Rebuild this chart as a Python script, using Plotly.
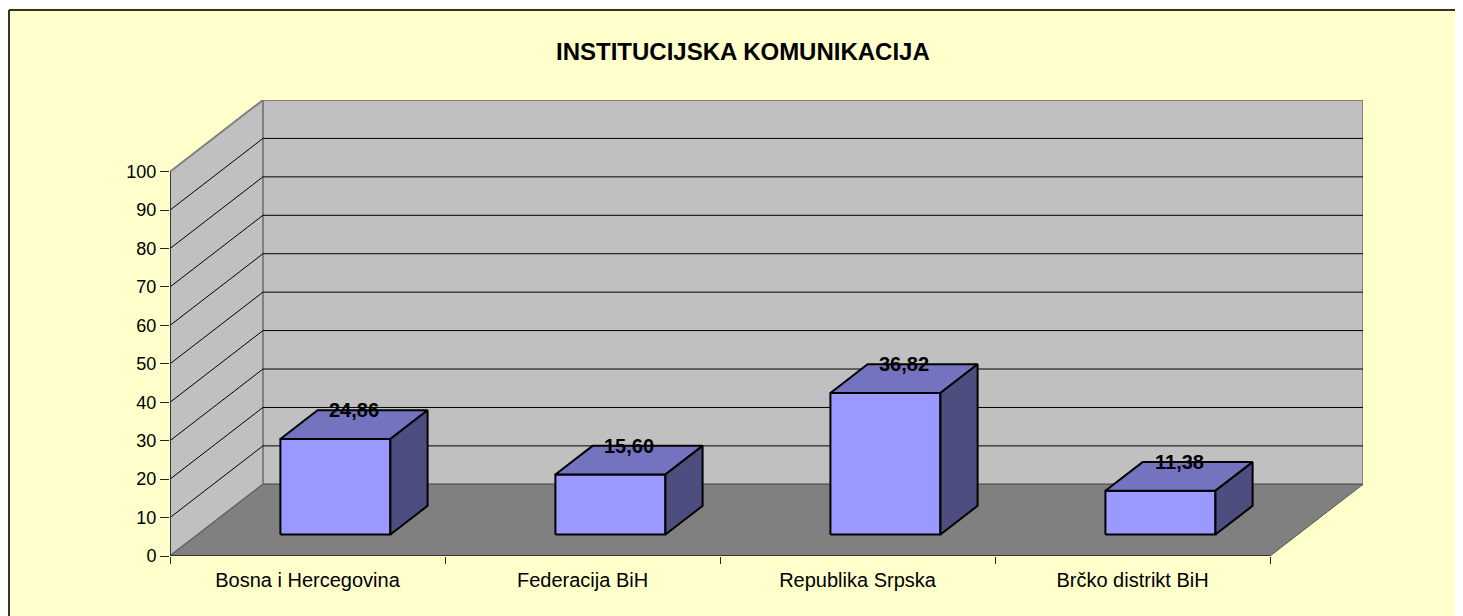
import plotly.graph_objects as go

# ---- data ----
categories = ["Bosna i Hercegovina", "Federacija BiH", "Republika Srpska", "Brčko distrikt BiH"]
values = [24.86, 15.60, 36.82, 11.38]
y_ticks = list(range(0, 101, 10))
title_text = "INSTITUCIJSKA KOMUNIKACIJA"

# ---- layout geometry ----
OFF = 8  # page body margin offset
W, H = 1463 - OFF, 616 - OFF
PL, PR, PT, PB = 170, 1363, 100, 556   # target plot box in page pixels
L = PL - OFF
T = PT - OFF
R = W - (PR - OFF)
B = H - (PB - OFF)
plot_w = PR - PL
plot_h = PB - PT
n = len(categories)
DX = 0.338          # depth offset of the wall, x units
DY = 18.65          # depth offset of the wall, y units
x_max = n + DX
y_max = 100 + DY
BAR_W = 0.4
D0, D1 = 0.3, 0.7   # bar depth span

def px_to_paper_x(px):
    return (px - PL) / plot_w

def px_to_paper_y(py):
    return (PB - py) / plot_h

BG = "#FFFFCC"
WALL = "#C0C0C0"
FLOOR = "#808080"
FRONT = "#9999FF"
TOP = "#7373BF"
SIDE = "#4D4D80"
FONT = "Liberation Sans, Arial, sans-serif"

fig = go.Figure()
shapes = []

def poly(pts):
    return "M " + " L ".join(f"{x},{y}" for x, y in pts) + " Z"

# back wall
shapes.append(dict(type="path", xref="x", yref="y", layer="below",
                   path=poly([(DX, DY), (n + DX, DY), (n + DX, 100 + DY), (DX, 100 + DY)]),
                   fillcolor=WALL, line=dict(color="#808080", width=2)))
# side wall
shapes.append(dict(type="path", xref="x", yref="y", layer="below",
                   path=poly([(0, 0), (DX, DY), (DX, 100 + DY), (0, 100)]),
                   fillcolor=WALL, line=dict(color="#808080", width=2)))
# floor
shapes.append(dict(type="path", xref="x", yref="y", layer="below",
                   path=poly([(0, 0), (n, 0), (n + DX, DY), (DX, DY)]),
                   fillcolor=FLOOR, line=dict(color="#555555", width=1)))
# gridlines
for v in y_ticks[1:-1]:
    shapes.append(dict(type="line", xref="x", yref="y", layer="below",
                       x0=DX, y0=v + DY, x1=n + DX, y1=v + DY,
                       line=dict(color="black", width=1)))
    shapes.append(dict(type="line", xref="x", yref="y", layer="below",
                       x0=0, y0=v, x1=DX, y1=v + DY,
                       line=dict(color="black", width=1)))
# axis lines
shapes.append(dict(type="line", xref="x", yref="y", x0=0, y0=0, x1=0, y1=100,
                   line=dict(color="#222222", width=1.5)))
shapes.append(dict(type="line", xref="x", yref="y", x0=0, y0=0, x1=n, y1=0,
                   line=dict(color="#222222", width=1.5)))
# outer chart border (top and left edges visible)
shapes.append(dict(type="line", xref="paper", yref="paper",
                   x0=px_to_paper_x(9), x1=px_to_paper_x(1500),
                   y0=px_to_paper_y(10), y1=px_to_paper_y(10),
                   line=dict(color="#333333", width=2)))
shapes.append(dict(type="line", xref="paper", yref="paper",
                   x0=px_to_paper_x(9), x1=px_to_paper_x(9),
                   y0=px_to_paper_y(10), y1=px_to_paper_y(660),
                   line=dict(color="#333333", width=2)))

annotations = []
for i, (cat, v) in enumerate(zip(categories, values)):
    x0 = i + 0.5 - BAR_W / 2 + D0 * DX
    x1 = x0 + BAR_W
    y0 = D0 * DY
    y1 = v + D0 * DY
    bdx = (D1 - D0) * DX
    bdy = (D1 - D0) * DY
    faces = [
        ([x0, x1, x1, x0, x0], [y0, y0, y1, y1, y0], FRONT),
        ([x0, x1, x1 + bdx, x0 + bdx, x0], [y1, y1, y1 + bdy, y1 + bdy, y1], TOP),
        ([x1, x1 + bdx, x1 + bdx, x1, x1], [y0, y0 + bdy, y1 + bdy, y1, y0], SIDE),
    ]
    for fx, fy, col in faces:
        fig.add_trace(go.Scatter(x=fx, y=fy, mode="lines", fill="toself",
                                 fillcolor=col, line=dict(color="black", width=2),
                                 hoverinfo="skip", showlegend=False))
    annotations.append(dict(x=i + 0.5 + 0.5 * DX, y=v + D1 * DY, xref="x", yref="y",
                            text=f"<b>{v:.2f}</b>".replace(".", ","), showarrow=False,
                            font=dict(family=FONT, size=20, color="black"),
                            xanchor="center", yanchor="middle"))

annotations.append(dict(x=px_to_paper_x(743), y=px_to_paper_y(51), xref="paper", yref="paper",
                        text=f"<b>{title_text}</b>", showarrow=False,
                        font=dict(family=FONT, size=24, color="black"),
                        xanchor="center", yanchor="middle"))

fig.update_layout(
    width=W, height=H,
    margin=dict(l=L, r=R, t=T, b=B, autoexpand=False),
    paper_bgcolor=BG, plot_bgcolor=BG,
    shapes=shapes, annotations=annotations,
    xaxis=dict(range=[0, x_max], showgrid=False, zeroline=False, showline=False,
               tickvals=[i + 0.5 for i in range(n)], ticktext=categories, ticks="",
               ticklabelstandoff=10,
               tickfont=dict(family=FONT, size=20, color="black"),
               minor=dict(tickvals=list(range(n + 1)), ticks="outside", ticklen=7,
                          tickcolor="#222222", showgrid=False),
               fixedrange=True),
    yaxis=dict(range=[0, y_max], showgrid=False, zeroline=False, showline=False,
               tickvals=y_ticks, ticktext=[str(t) for t in y_ticks],
               ticks="outside", ticklen=9, tickcolor="#222222",
               tickfont=dict(family=FONT, size=18, color="black"),
               fixedrange=True),
    showlegend=False,
)

fig.write_html("out.html")
